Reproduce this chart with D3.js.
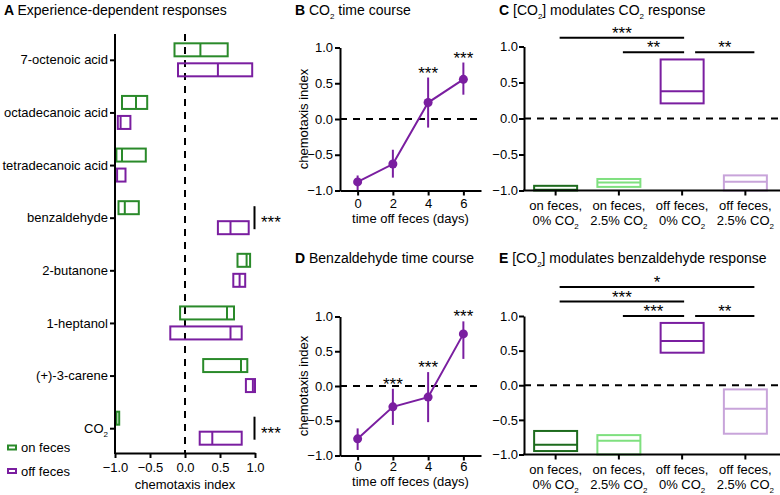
<!DOCTYPE html>
<html><head><meta charset="utf-8">
<script src="https://cdn.jsdelivr.net/npm/d3@7"></script>
<style>
body{margin:0;background:#fff;}
svg{display:block;}
</style></head><body>
<svg id="chart" width="780" height="495"></svg>
<script>
// ---------- Panel A data ----------
const odorants = ["7-octenoic acid","octadecanoic acid","tetradecanoic acid","benzaldehyde","2-butanone","1-heptanol","(+)-3-carene","CO₂"];
const onFecesQ1     = [-0.15,-0.90,-0.98,-0.95,0.75,-0.07,0.26,-1.00];
const onFecesMedian = [ 0.22,-0.70,-0.90,-0.86,0.88, 0.60,0.80,-0.98];
const onFecesQ3     = [ 0.61,-0.54,-0.56,-0.66,0.93, 0.70,0.89,-0.94];
const offFecesQ1     = [-0.10,-0.96,-1.00,0.47,0.69,-0.21,0.87,0.21];
const offFecesMedian = [ 0.47,-0.92,-0.97,0.65,0.78, 0.65,0.97,0.39];
const offFecesQ3     = [ 0.96,-0.78,-0.85,0.91,0.86, 0.81,1.00,0.81];
const aSigOdorants = ["benzaldehyde","CO₂"];
const aSigLabels = ["***","***"];
const legendLabels = ["on feces","off feces"];
const ciTicks = [-1,-0.5,0,0.5,1];

// ---------- Panel B data (CO2 time course) ----------
const days = [0,2,4,6];
const co2Mean = [-0.88,-0.63,0.23,0.555];
const co2Low  = [-1.00,-0.82,-0.12,0.34];
const co2High = [-0.79,-0.43,0.58,0.79];
const co2Sig  = ["","","***","***"];

// ---------- Panel D data (benzaldehyde time course) ----------
const bzMean = [-0.76,-0.30,-0.16,0.75];
const bzLow  = [-0.92,-0.56,-0.52,0.39];
const bzHigh = [-0.61,-0.04,0.20,0.93];
const bzSig  = ["","***","***","***"];

// ---------- Panels C & E data ----------
const conditionLine1 = ["on feces,","on feces,","off feces,","off feces,"];
const conditionLine2 = ["0% CO₂","2.5% CO₂","0% CO₂","2.5% CO₂"];
const co2BoxQ1     = [-1.00,-0.95,0.21,-1.00];
const co2BoxMedian = [-0.99,-0.89,0.38,-0.88];
const co2BoxQ3     = [-0.935,-0.84,0.82,-0.79];
const bzBoxQ1     = [-0.95,-1.00,0.47,-0.70];
const bzBoxMedian = [-0.86,-0.80,0.64,-0.34];
const bzBoxQ3     = [-0.66,-0.72,0.90,-0.06];
const co2BracketFrom = [0,1,2];
const co2BracketTo   = [2,2,3];
const co2BracketLabel = ["***","**","**"];
const bzBracketFrom = [0,0,1,2];
const bzBracketTo   = [3,2,2,3];
const bzBracketLabel = ["*","***","***","**"];

// ---------- styling ----------
const FONT = '"Liberation Sans", Arial, Helvetica, sans-serif';
const GREEN = "#2a8a2a", PURPLE = "#7a1ea0";
const condColors = ["#1d6b1d","#7fe07f","#7a1ea0","#c8a4da"];
const STAR = 17;
const svg = d3.select("#chart").attr("font-family", FONT);
const f1 = d3.format(".1f");

function setRich(el, str, subSize) {
  const t = d3.select(el);
  t.text(null);
  const parts = str.split("₂");
  let shifted = false;
  parts.forEach((p, i) => {
    if (p) {
      const ts = t.append("tspan").text(p);
      if (shifted) { ts.attr("dy", -4); shifted = false; }
    }
    if (i < parts.length - 1) {
      t.append("tspan").attr("font-size", subSize).attr("dy", 4).text("2");
      shifted = true;
    }
  });
}
function styleAxis(g) {
  g.attr("font-family", FONT).attr("font-size", 13);
  g.selectAll("path.domain").attr("stroke", "#000").attr("stroke-width", 2);
  g.selectAll(".tick line").attr("stroke", "#000").attr("stroke-width", 2);
  g.selectAll(".tick text").attr("fill", "#000");
}
function title(x, y, letter, str) {
  const t = svg.append("text").attr("x", x).attr("y", y).attr("font-size", 14).attr("fill", "#000");
  t.append("tspan").attr("font-weight", "bold").text(letter + " ");
  const parts = str.split("₂");
  let shifted = false;
  parts.forEach((p, i) => {
    if (p) { const ts = t.append("tspan").text(p); if (shifted) { ts.attr("dy", -4); shifted = false; } }
    if (i < parts.length - 1) { t.append("tspan").attr("font-size", 8).attr("dy", 4).text("2"); shifted = true; }
  });
}
function dashed(x1, y1, x2, y2) {
  svg.append("line").attr("x1", x1).attr("y1", y1).attr("x2", x2).attr("y2", y2)
    .attr("stroke", "#000").attr("stroke-width", 2).attr("stroke-dasharray", "7,6");
}

// ================= Panel A =================
(function () {
  const x = d3.scaleLinear().domain([-1, 1]).range([115, 255]);
  const y = d3.scaleBand().domain(odorants).range([34, 455]);
  const axisY = 453;
  title(4, 15, "A", "Experience-dependent responses");

  dashed(x(0), 34, x(0), axisY);

  const boxH = 13;
  odorants.forEach((o, i) => {
    const c = y(o) + y.bandwidth() / 2;
    const groups = [
      {q1: onFecesQ1[i], m: onFecesMedian[i], q3: onFecesQ3[i], top: c - 17, col: GREEN},
      {q1: offFecesQ1[i], m: offFecesMedian[i], q3: offFecesQ3[i], top: c + 3, col: PURPLE}
    ];
    groups.forEach(g => {
      svg.append("rect").attr("x", x(g.q1)).attr("y", g.top)
        .attr("width", Math.max(x(g.q3) - x(g.q1), 1)).attr("height", boxH)
        .attr("fill", "none").attr("stroke", g.col).attr("stroke-width", 2);
      svg.append("line").attr("x1", x(g.m)).attr("x2", x(g.m)).attr("y1", g.top).attr("y2", g.top + boxH)
        .attr("stroke", g.col).attr("stroke-width", 2);
    });
  });

  aSigOdorants.forEach((o, i) => {
    const c = y(o) + y.bandwidth() / 2;
    svg.append("line").attr("x1", 254.5).attr("x2", 254.5).attr("y1", c - 12).attr("y2", c + 11)
      .attr("stroke", "#000").attr("stroke-width", 2);
    svg.append("text").attr("x", 261).attr("y", c + 10).attr("font-size", STAR).text(aSigLabels[i]);
  });

  const gx = svg.append("g").attr("transform", `translate(0,${axisY})`)
    .call(d3.axisBottom(x).tickValues(ciTicks).tickFormat(f1).tickSize(5).tickPadding(5).tickSizeOuter(0));
  styleAxis(gx);
  const gy = svg.append("g").attr("transform", `translate(115,0)`)
    .call(d3.axisLeft(y).tickSize(5).tickPadding(2).tickSizeOuter(0));
  styleAxis(gy);
  gy.select("path.domain").remove();
  svg.append("line").attr("x1", 115).attr("x2", 115).attr("y1", 34).attr("y2", axisY + 1).attr("stroke", "#000").attr("stroke-width", 2);
  gy.selectAll(".tick text").each(function (d) { setRich(this, d, 8); });

  svg.append("text").attr("x", (x(-1) + x(1)) / 2).attr("y", 489).attr("text-anchor", "middle")
    .attr("font-size", 13).text("chemotaxis index");

  // legend
  const legCols = [GREEN, PURPLE];
  legendLabels.forEach((l, i) => {
    const ly = 447 + i * 23.5;
    svg.append("rect").attr("x", 8).attr("y", ly - 1.5).attr("width", 8).attr("height", 4)
      .attr("fill", "none").attr("stroke", legCols[i]).attr("stroke-width", 2);
    svg.append("text").attr("x", 21).attr("y", ly + 5).attr("font-size", 13).text(l);
  });
})();

// ================= Panels B & D =================
function timeCourse(top, bottom, titleY, letter, ttl, mean, low, high, sig, tickPad, labelBase) {
  const x = d3.scaleLinear().domain([-1, 7]).range([340, 481]);
  const y = d3.scaleLinear().domain([-1, 1]).range([bottom, top]);
  title(295, titleY, letter, ttl);
  dashed(340, y(0), 483, y(0));

  const pts = days.map((d, i) => [x(d), y(mean[i])]);
  svg.append("path").attr("d", d3.line()(pts)).attr("fill", "none").attr("stroke", PURPLE).attr("stroke-width", 2);
  days.forEach((d, i) => {
    svg.append("line").attr("x1", x(d)).attr("x2", x(d)).attr("y1", y(low[i])).attr("y2", y(high[i]))
      .attr("stroke", PURPLE).attr("stroke-width", 2);
    svg.append("circle").attr("cx", x(d)).attr("cy", y(mean[i])).attr("r", 4.5).attr("fill", PURPLE);
    if (sig[i]) svg.append("text").attr("x", x(d)).attr("y", y(high[i]) + 1).attr("text-anchor", "middle")
      .attr("font-size", STAR).text(sig[i]);
  });

  const gx = svg.append("g").attr("transform", `translate(0,${bottom})`)
    .call(d3.axisBottom(x).tickValues(days).tickFormat(d3.format("d")).tickSize(5).tickPadding(tickPad).tickSizeOuter(0));
  styleAxis(gx);
  const gy = svg.append("g").attr("transform", `translate(340,0)`)
    .call(d3.axisLeft(y).tickValues(ciTicks).tickFormat(f1).tickSize(5).tickPadding(2).tickSizeOuter(0));
  styleAxis(gy);

  svg.append("text").attr("transform", `translate(308,${(top + bottom) / 2}) rotate(-90)`)
    .attr("text-anchor", "middle").attr("font-size", 13).text("chemotaxis index");
  svg.append("text").attr("x", 410.5).attr("y", bottom + labelBase).attr("text-anchor", "middle")
    .attr("font-size", 13).text("time off feces (days)");
}
timeCourse(47.5, 190.5, 15, "B", "CO₂ time course", co2Mean, co2Low, co2High, co2Sig, 3, 32.5);
timeCourse(316.5, 455.5, 263, "D", "Benzaldehyde time course", bzMean, bzLow, bzHigh, bzSig, 1, 30.5);

// ================= Panels C & E =================
function boxPanel(top, bottom, titleY, bracketBase, letter, ttl, q1, med, q3, bFrom, bTo, bLabel) {
  const cats = d3.range(conditionLine1.length);
  const x = d3.scaleBand().domain(cats).range([524, 777]);
  const y = d3.scaleLinear().domain([-1, 1]).range([bottom, top]);
  const cx = i => x(i) + x.bandwidth() / 2;
  title(499, titleY, letter, ttl);
  dashed(524, y(0), 780, y(0));

  const bw = 43;
  cats.forEach(i => {
    svg.append("rect").attr("x", cx(i) - bw / 2).attr("y", y(q3[i])).attr("width", bw)
      .attr("height", y(q1[i]) - y(q3[i])).attr("fill", "none").attr("stroke", condColors[i]).attr("stroke-width", 2);
    svg.append("line").attr("x1", cx(i) - bw / 2).attr("x2", cx(i) + bw / 2).attr("y1", y(med[i])).attr("y2", y(med[i]))
      .attr("stroke", condColors[i]).attr("stroke-width", 2);
  });

  const baseRowY = y(bracketBase);
  const rowStep = 14.5;
  bFrom.forEach((f, k) => {
    const t = bTo[k];
    const row = (t - f) - 1;
    const ly = baseRowY - row * rowStep;
    const shared = bTo.some((t2, j) => j !== k && t2 === f && (t2 - bFrom[j]) === (t - f));
    const x1 = cx(f) + 4 + (shared ? 9 : 0);
    const x2 = cx(t) + 2 + (t === cats.length - 1 ? 7 : 0);
    svg.append("line").attr("x1", x1).attr("x2", x2).attr("y1", ly).attr("y2", ly)
      .attr("stroke", "#000").attr("stroke-width", 2);
    svg.append("text").attr("x", (x1 + x2) / 2).attr("y", ly + 1).attr("text-anchor", "middle")
      .attr("font-size", STAR).text(bLabel[k]);
  });

  const gx = svg.append("g").attr("transform", `translate(0,${bottom})`)
    .call(d3.axisBottom(x).tickFormat("").tickSize(5).tickSizeOuter(0));
  styleAxis(gx);
  gx.select("path.domain").remove();
  svg.append("line").attr("x1", 523).attr("x2", 780).attr("y1", bottom).attr("y2", bottom).attr("stroke", "#000").attr("stroke-width", 2);
  const gy = svg.append("g").attr("transform", `translate(524,0)`)
    .call(d3.axisLeft(y).tickValues(ciTicks).tickFormat(f1).tickSize(5).tickPadding(1).tickSizeOuter(0));
  styleAxis(gy);

  cats.forEach(i => {
    svg.append("text").attr("x", cx(i)).attr("y", bottom + 19).attr("text-anchor", "middle")
      .attr("font-size", 13).text(conditionLine1[i]);
    const t2 = svg.append("text").attr("x", cx(i)).attr("y", bottom + 34).attr("text-anchor", "middle")
      .attr("font-size", 13);
    setRich(t2.node(), conditionLine2[i], 8);
  });
}
boxPanel(46.5, 190.5, 15, 0.92, "C", "[CO₂] modulates CO₂ response", co2BoxQ1, co2BoxMedian, co2BoxQ3, co2BracketFrom, co2BracketTo, co2BracketLabel);
boxPanel(316, 454.5, 263, 1.0, "E", "[CO₂] modulates benzaldehyde response", bzBoxQ1, bzBoxMedian, bzBoxQ3, bzBracketFrom, bzBracketTo, bzBracketLabel);
</script>
</body></html>
